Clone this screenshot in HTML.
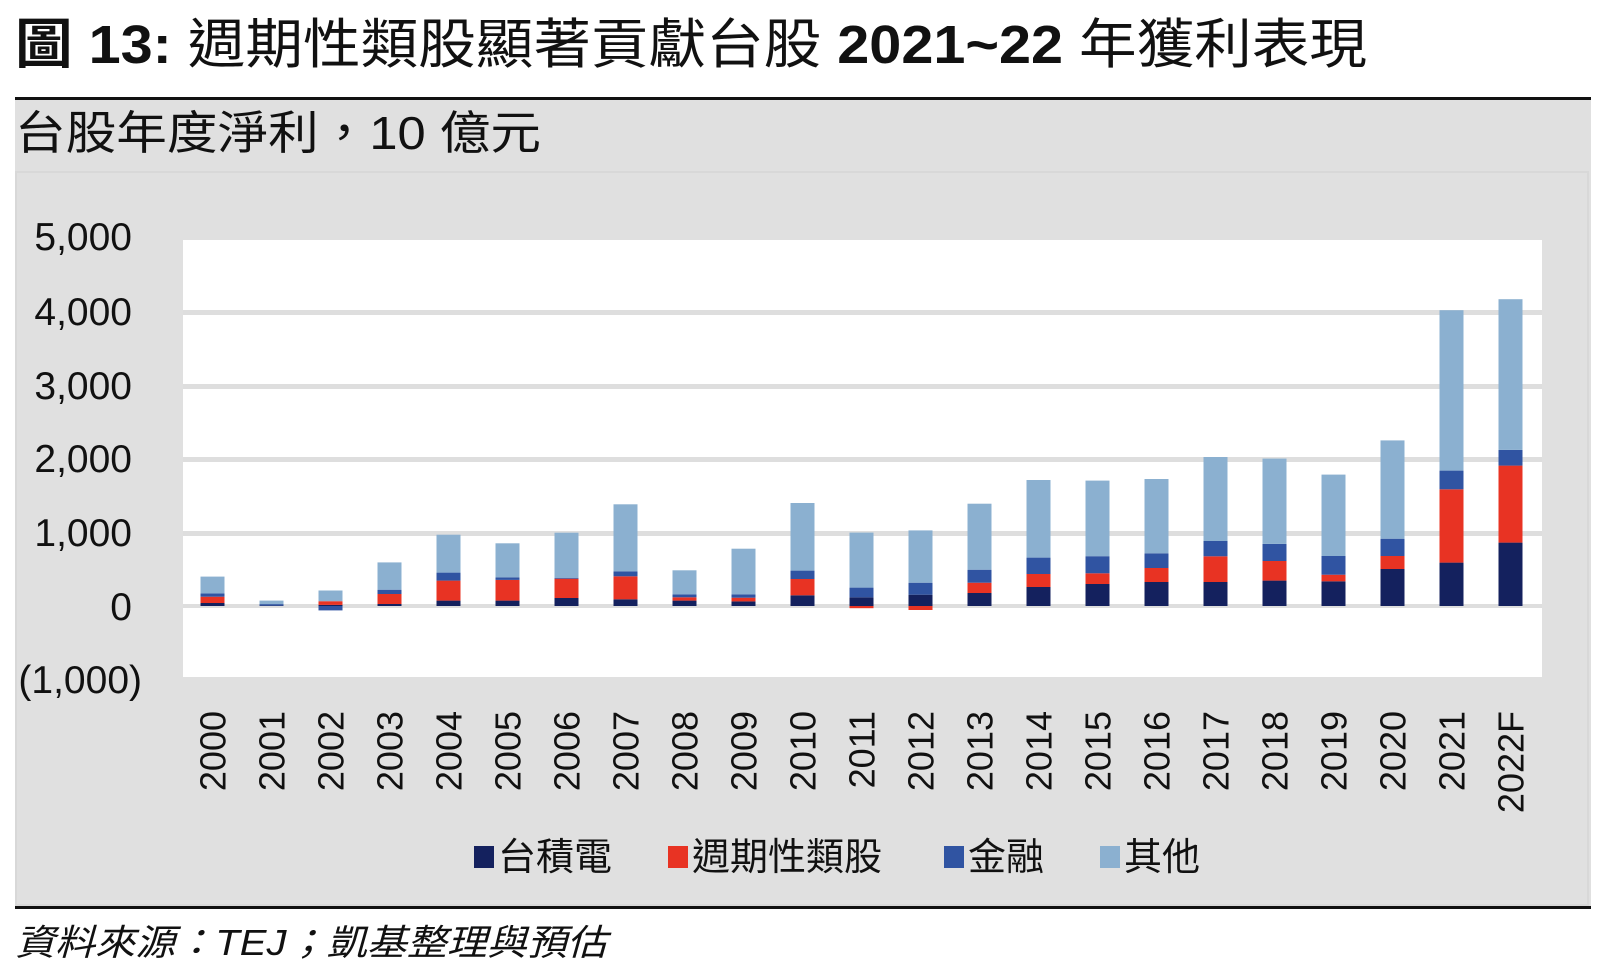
<!DOCTYPE html>
<html><head><meta charset="utf-8"><style>
html,body{margin:0;padding:0;background:#fff;width:1600px;height:972px;overflow:hidden}
svg{display:block}
text{font-family:"Liberation Sans","Noto Sans CJK TC",sans-serif;fill:#111}
</style></head><body>
<svg width="1600" height="972" viewBox="0 0 1600 972" xmlns="http://www.w3.org/2000/svg">
<text x="15" y="63" font-size="54" textLength="1352" lengthAdjust="spacingAndGlyphs"><tspan font-weight="bold">圖 13:</tspan> 週期性類股顯著貢獻台股 <tspan font-weight="bold">2021~22</tspan> 年獲利表現</text>
<rect x="15" y="99" width="1576" height="808" fill="#e0e0e0"/>
<rect x="15" y="97" width="1576" height="3" fill="#111"/>
<rect x="15" y="906" width="1576" height="3" fill="#111"/>
<text x="15" y="149" font-size="46" textLength="526" lengthAdjust="spacingAndGlyphs">台股年度淨利，10 億元</text>
<rect x="16" y="172" width="1572" height="733" fill="none" stroke="#d8d8d8" stroke-width="2"/>
<rect x="183" y="240" width="1359" height="437" fill="#fff"/>
<g fill="#dedede">
<rect x="183" y="310" width="1359" height="5"/>
<rect x="183" y="384" width="1359" height="5"/>
<rect x="183" y="457" width="1359" height="5"/>
<rect x="183" y="531" width="1359" height="5"/>
<rect x="183" y="604" width="1359" height="4"/>
</g>
<g font-size="39" text-anchor="end">
<text x="132" y="250">5,000</text>
<text x="132" y="325">4,000</text>
<text x="132" y="399">3,000</text>
<text x="132" y="472">2,000</text>
<text x="132" y="546">1,000</text>
<text x="132" y="620">0</text>
<text x="142" y="693">(1,000)</text>
</g>
<g>
<rect x="200.5" y="603" width="24" height="3" fill="#14215e"/><rect x="200.5" y="596.7" width="24" height="6.3" fill="#e83323"/><rect x="200.5" y="593.4" width="24" height="3.3" fill="#3054a2"/><rect x="200.5" y="576.6" width="24" height="16.8" fill="#8bb0d0"/>
<rect x="259.5" y="605.6" width="24" height="0.4" fill="#14215e"/><rect x="259.5" y="604.1" width="24" height="1.5" fill="#3054a2"/><rect x="259.5" y="600.6" width="24" height="3.5" fill="#8bb0d0"/>
<rect x="318.5" y="604.9" width="24" height="1.1" fill="#14215e"/><rect x="318.5" y="601.2" width="24" height="3.7" fill="#e83323"/><rect x="318.5" y="606" width="24" height="4.4" fill="#3054a2"/><rect x="318.5" y="590.5" width="24" height="10.7" fill="#8bb0d0"/>
<rect x="377.5" y="604" width="24" height="2" fill="#14215e"/><rect x="377.5" y="594" width="24" height="10" fill="#e83323"/><rect x="377.5" y="589.7" width="24" height="4.3" fill="#3054a2"/><rect x="377.5" y="562.4" width="24" height="27.3" fill="#8bb0d0"/>
<rect x="436.5" y="600.6" width="24" height="5.4" fill="#14215e"/><rect x="436.5" y="580.6" width="24" height="20" fill="#e83323"/><rect x="436.5" y="572.6" width="24" height="8" fill="#3054a2"/><rect x="436.5" y="534.7" width="24" height="37.9" fill="#8bb0d0"/>
<rect x="495.5" y="600.6" width="24" height="5.4" fill="#14215e"/><rect x="495.5" y="579.9" width="24" height="20.7" fill="#e83323"/><rect x="495.5" y="577.3" width="24" height="2.6" fill="#3054a2"/><rect x="495.5" y="543.3" width="24" height="34" fill="#8bb0d0"/>
<rect x="554.5" y="598" width="24" height="8" fill="#14215e"/><rect x="554.5" y="578.7" width="24" height="19.3" fill="#e83323"/><rect x="554.5" y="578" width="24" height="0.7" fill="#3054a2"/><rect x="554.5" y="532.7" width="24" height="45.3" fill="#8bb0d0"/>
<rect x="613.5" y="599.3" width="24" height="6.7" fill="#14215e"/><rect x="613.5" y="576.3" width="24" height="23" fill="#e83323"/><rect x="613.5" y="571.3" width="24" height="5" fill="#3054a2"/><rect x="613.5" y="504.3" width="24" height="67" fill="#8bb0d0"/>
<rect x="672.5" y="600.6" width="24" height="5.4" fill="#14215e"/><rect x="672.5" y="597.3" width="24" height="3.3" fill="#e83323"/><rect x="672.5" y="594.3" width="24" height="3" fill="#3054a2"/><rect x="672.5" y="570.3" width="24" height="24" fill="#8bb0d0"/>
<rect x="731.5" y="601.4" width="24" height="4.6" fill="#14215e"/><rect x="731.5" y="597.7" width="24" height="3.7" fill="#e83323"/><rect x="731.5" y="594.3" width="24" height="3.4" fill="#3054a2"/><rect x="731.5" y="548.7" width="24" height="45.6" fill="#8bb0d0"/>
<rect x="790.5" y="595.3" width="24" height="10.7" fill="#14215e"/><rect x="790.5" y="579" width="24" height="16.3" fill="#e83323"/><rect x="790.5" y="570.6" width="24" height="8.4" fill="#3054a2"/><rect x="790.5" y="503" width="24" height="67.6" fill="#8bb0d0"/>
<rect x="849.5" y="597.3" width="24" height="8.7" fill="#14215e"/><rect x="849.5" y="606" width="24" height="2.2" fill="#e83323"/><rect x="849.5" y="587.6" width="24" height="9.7" fill="#3054a2"/><rect x="849.5" y="532.6" width="24" height="55" fill="#8bb0d0"/>
<rect x="908.5" y="594.7" width="24" height="11.3" fill="#14215e"/><rect x="908.5" y="606" width="24" height="4" fill="#e83323"/><rect x="908.5" y="582.7" width="24" height="12" fill="#3054a2"/><rect x="908.5" y="530.4" width="24" height="52.3" fill="#8bb0d0"/>
<rect x="967.5" y="593" width="24" height="13" fill="#14215e"/><rect x="967.5" y="582.7" width="24" height="10.3" fill="#e83323"/><rect x="967.5" y="569.7" width="24" height="13" fill="#3054a2"/><rect x="967.5" y="503.7" width="24" height="66" fill="#8bb0d0"/>
<rect x="1026.5" y="587" width="24" height="19" fill="#14215e"/><rect x="1026.5" y="574" width="24" height="13" fill="#e83323"/><rect x="1026.5" y="557.6" width="24" height="16.4" fill="#3054a2"/><rect x="1026.5" y="480" width="24" height="77.6" fill="#8bb0d0"/>
<rect x="1085.5" y="584" width="24" height="22" fill="#14215e"/><rect x="1085.5" y="573.3" width="24" height="10.7" fill="#e83323"/><rect x="1085.5" y="556.2" width="24" height="17.1" fill="#3054a2"/><rect x="1085.5" y="480.6" width="24" height="75.6" fill="#8bb0d0"/>
<rect x="1144.5" y="582" width="24" height="24" fill="#14215e"/><rect x="1144.5" y="568" width="24" height="14" fill="#e83323"/><rect x="1144.5" y="553.3" width="24" height="14.7" fill="#3054a2"/><rect x="1144.5" y="479" width="24" height="74.3" fill="#8bb0d0"/>
<rect x="1203.5" y="582" width="24" height="24" fill="#14215e"/><rect x="1203.5" y="556.3" width="24" height="25.7" fill="#e83323"/><rect x="1203.5" y="541" width="24" height="15.3" fill="#3054a2"/><rect x="1203.5" y="457" width="24" height="84" fill="#8bb0d0"/>
<rect x="1262.5" y="580.6" width="24" height="25.4" fill="#14215e"/><rect x="1262.5" y="561" width="24" height="19.6" fill="#e83323"/><rect x="1262.5" y="543.9" width="24" height="17.1" fill="#3054a2"/><rect x="1262.5" y="458.6" width="24" height="85.3" fill="#8bb0d0"/>
<rect x="1321.5" y="581.3" width="24" height="24.7" fill="#14215e"/><rect x="1321.5" y="574.7" width="24" height="6.6" fill="#e83323"/><rect x="1321.5" y="556" width="24" height="18.7" fill="#3054a2"/><rect x="1321.5" y="474.6" width="24" height="81.4" fill="#8bb0d0"/>
<rect x="1380.5" y="569" width="24" height="37" fill="#14215e"/><rect x="1380.5" y="556" width="24" height="13" fill="#e83323"/><rect x="1380.5" y="538.7" width="24" height="17.3" fill="#3054a2"/><rect x="1380.5" y="440.4" width="24" height="98.3" fill="#8bb0d0"/>
<rect x="1439.5" y="562.6" width="24" height="43.4" fill="#14215e"/><rect x="1439.5" y="489.3" width="24" height="73.3" fill="#e83323"/><rect x="1439.5" y="470.6" width="24" height="18.7" fill="#3054a2"/><rect x="1439.5" y="310.2" width="24" height="160.4" fill="#8bb0d0"/>
<rect x="1498.5" y="542.6" width="24" height="63.4" fill="#14215e"/><rect x="1498.5" y="465.6" width="24" height="77" fill="#e83323"/><rect x="1498.5" y="449.9" width="24" height="15.7" fill="#3054a2"/><rect x="1498.5" y="299.2" width="24" height="150.7" fill="#8bb0d0"/>
</g>
<g font-size="36" text-anchor="end">
<text transform="translate(225.5,711) rotate(-90)">2000</text>
<text transform="translate(284.5,711) rotate(-90)">2001</text>
<text transform="translate(343.5,711) rotate(-90)">2002</text>
<text transform="translate(402.5,711) rotate(-90)">2003</text>
<text transform="translate(461.5,711) rotate(-90)">2004</text>
<text transform="translate(520.5,711) rotate(-90)">2005</text>
<text transform="translate(579.5,711) rotate(-90)">2006</text>
<text transform="translate(638.5,711) rotate(-90)">2007</text>
<text transform="translate(697.5,711) rotate(-90)">2008</text>
<text transform="translate(756.5,711) rotate(-90)">2009</text>
<text transform="translate(815.5,711) rotate(-90)">2010</text>
<text transform="translate(874.5,711) rotate(-90)">2011</text>
<text transform="translate(933.5,711) rotate(-90)">2012</text>
<text transform="translate(992.5,711) rotate(-90)">2013</text>
<text transform="translate(1051.5,711) rotate(-90)">2014</text>
<text transform="translate(1110.5,711) rotate(-90)">2015</text>
<text transform="translate(1169.5,711) rotate(-90)">2016</text>
<text transform="translate(1228.5,711) rotate(-90)">2017</text>
<text transform="translate(1287.5,711) rotate(-90)">2018</text>
<text transform="translate(1346.5,711) rotate(-90)">2019</text>
<text transform="translate(1405.5,711) rotate(-90)">2020</text>
<text transform="translate(1464.5,711) rotate(-90)">2021</text>
<text transform="translate(1523.5,711) rotate(-90)">2022F</text>
</g>
<g font-size="38">
<rect x="474" y="846" width="20" height="22" fill="#14215e"/>
<text x="498" y="870">台積電</text>
<rect x="668" y="846" width="20" height="22" fill="#e83323"/>
<text x="692" y="870">週期性類股</text>
<rect x="944" y="846" width="20" height="22" fill="#3054a2"/>
<text x="968" y="870">金融</text>
<rect x="1100" y="846" width="20" height="22" fill="#8bb0d0"/>
<text x="1124" y="870">其他</text>
</g>
<text x="15" y="955" font-size="36" font-style="italic" textLength="592" lengthAdjust="spacingAndGlyphs">資料來源：TEJ；凱基整理與預估</text>
</svg>
</body></html>
